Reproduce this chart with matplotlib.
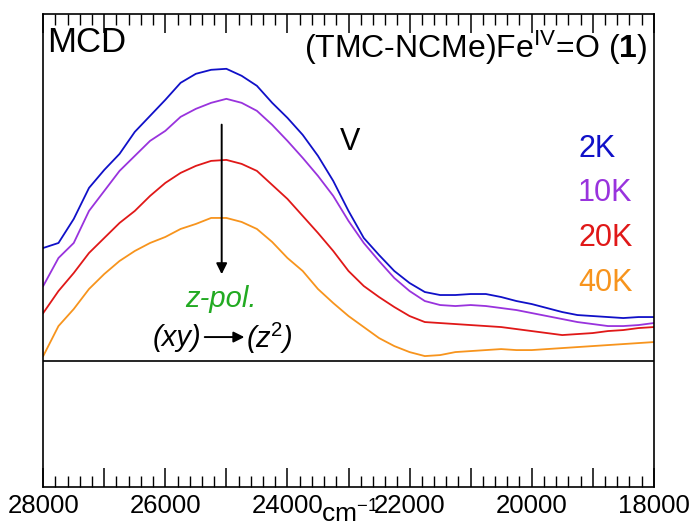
import numpy as np
import matplotlib
matplotlib.use('Agg')
from matplotlib import pyplot as plt
from matplotlib.ticker import MultipleLocator, FuncFormatter

plt.rcParams['font.family'] = ['Liberation Sans', 'DejaVu Sans']
plt.rcParams['mathtext.fontset'] = 'custom'
plt.rcParams['mathtext.rm'] = 'Liberation Sans'
plt.rcParams['mathtext.it'] = 'Liberation Sans:italic'
plt.rcParams['mathtext.bf'] = 'Liberation Sans:bold'

# wavenumbers (cm-1), every 250 cm-1
wavenumber = [28000, 27750, 27500, 27250, 27000, 26750, 26500, 26250, 26000,
              25750, 25500, 25250, 25000, 24750, 24500, 24250, 24000, 23750,
              23500, 23250, 23000, 22750, 22500, 22250, 22000, 21750, 21500,
              21250, 21000, 20750, 20500, 20250, 20000, 19750, 19500, 19250,
              19000, 18750, 18500, 18250, 18000]

# MCD intensity (arbitrary units, zero = baseline)
mcd_2K = [113, 118, 142, 173, 191, 207, 229, 245, 261, 278, 287, 291, 292,
          285, 275, 258, 243, 226, 205, 180, 150, 123, 106, 90, 78, 69, 66,
          66, 67, 67, 64, 60, 57, 53, 49, 46, 45, 44, 43, 44, 44]
mcd_10K = [75, 103, 118, 150, 170, 190, 205, 220, 230, 244, 252, 258, 262,
           258, 250, 236, 220, 203, 185, 165, 140, 118, 100, 83, 70, 60, 56,
           55, 56, 55, 53, 51, 48, 45, 42, 39, 37, 35, 35, 36, 38]
mcd_20K = [48, 70, 88, 108, 123, 138, 150, 165, 178, 188, 195, 200, 201,
           197, 190, 176, 162, 145, 128, 110, 90, 75, 64, 54, 45, 39, 38,
           37, 36, 35, 34, 32, 30, 28, 26, 27, 28, 30, 31, 33, 34]
mcd_40K = [5, 35, 52, 72, 87, 100, 110, 118, 124, 132, 137, 143, 143,
           139, 132, 119, 103, 90, 72, 58, 45, 34, 23, 15, 9, 5, 6,
           9, 10, 11, 12, 11, 11, 12, 13, 14, 15, 16, 17, 18, 19]

temps = ['2K', '10K', '20K', '40K']
colors = ['#1010c8', '#9933dd', '#e01818', '#f7941d']
series = [mcd_2K, mcd_10K, mcd_20K, mcd_40K]

fig = plt.figure(figsize=(6.97, 5.29), dpi=100)
ax = fig.add_axes([0.062, 0.079, 0.876, 0.895])

for s, c in zip(series, colors):
    ax.plot(wavenumber, s, color=c, lw=1.3)

ax.axhline(0, color='black', lw=1.2)

ax.set_xlim(28000, 18000)
ax.set_ylim(-126, 347)
ax.set_yticks([])

ax.xaxis.set_major_locator(MultipleLocator(1000))
ax.xaxis.set_minor_locator(MultipleLocator(200))
ax.xaxis.set_major_formatter(FuncFormatter(lambda v, p: '%d' % v if int(round(v)) % 2000 == 0 else ''))
ax.tick_params(axis='x', which='both', direction='in', top=True, bottom=True, labelsize=18.5, pad=5)
ax.tick_params(axis='x', which='major', length=14, width=1.1)
ax.tick_params(axis='x', which='minor', length=8, width=1.0)
for sp in ax.spines.values():
    sp.set_linewidth(1.2)

fig.text(0.502, 0.003, 'cm$^{-1}$', fontsize=19, ha='center', va='bottom')

# annotations
ax.text(0.006, 0.975, 'MCD', transform=ax.transAxes, fontsize=25, ha='left', va='top')
ax.text(0.99, 0.968, '(TMC-NCMe)Fe$^{\\mathrm{IV}}$=O ($\\mathbf{1}$)', transform=ax.transAxes,
        fontsize=23, ha='right', va='top')
ax.text(22975, 219, 'V', fontsize=22, ha='center', va='center')

for i, (t, c) in enumerate(zip(temps, colors)):
    ax.text(19240, 212 - i * 44.5, t, color=c, fontsize=22, ha='left', va='center')

ax.annotate('', xy=(25077, 84), xytext=(25077, 239),
            arrowprops=dict(arrowstyle='-|>', color='black', lw=1.4, mutation_scale=16))
ax.text(25094, 62, 'z-pol.', color='#22aa22', fontsize=21, style='italic', ha='center', va='center')
ax.text(25816, 23, '(xy)', fontsize=21, style='italic', ha='center', va='center')
ax.text(24289, 23, '(z$^2$)', fontsize=21, style='italic', ha='center', va='center')
ax.annotate('', xy=(24660, 24), xytext=(25400, 24),
            arrowprops=dict(arrowstyle='-|>', color='black', lw=1.4, mutation_scale=16))

fig.savefig('out.png', dpi=100)
